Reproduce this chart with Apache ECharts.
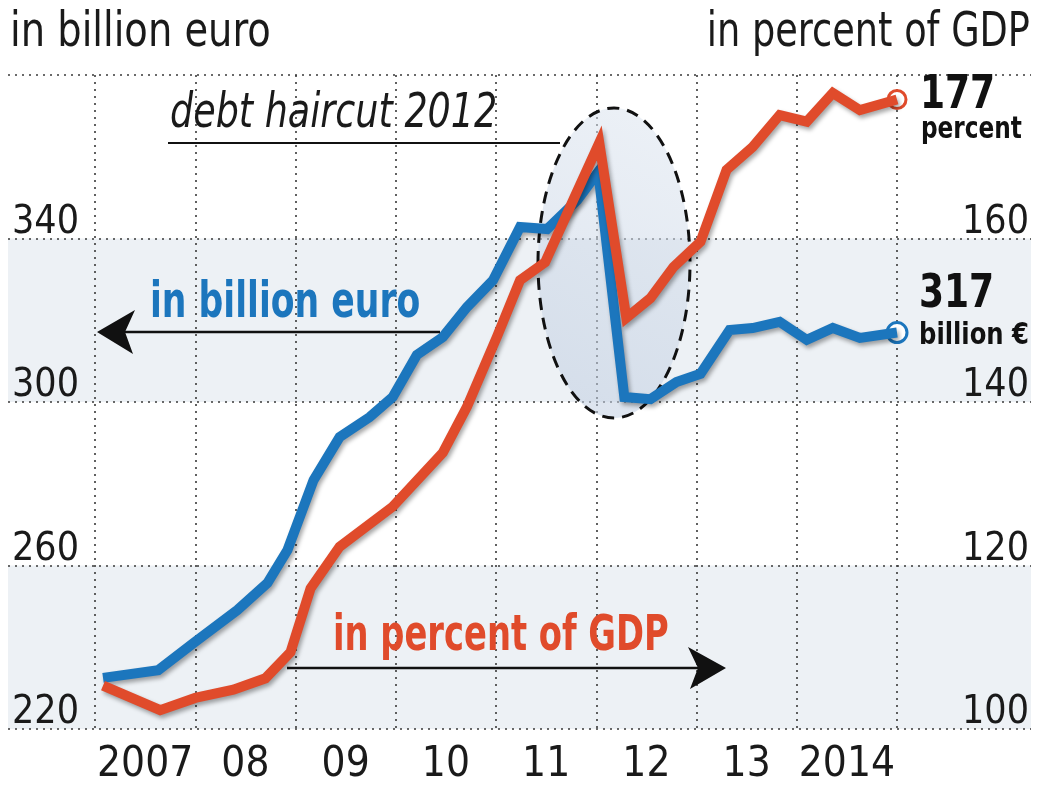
<!DOCTYPE html>
<html>
<head>
<meta charset="utf-8">
<script src="https://cdn.jsdelivr.net/npm/echarts@6/dist/echarts.min.js"></script>
<style>
  html, body { margin: 0; padding: 0; background: #fff; }
  #chart { width: 1037px; height: 787px; }
</style>
</head>
<body>
<div id="chart"></div>
<script>
// Greek government debt, quarterly readings 2007-2014
const yearLabels = ['2007', '08', '09', '10', '11', '12', '13', '2014'];

// debt in billion euro (left axis)
const euroDates = [2007.08, 2007.63, 2007.98, 2008.42, 2008.72, 2008.92, 2009.18, 2009.44, 2009.74, 2009.97,
                   2010.21, 2010.47, 2010.71, 2010.97, 2011.24, 2011.51, 2011.81, 2012.02, 2012.28, 2012.54,
                   2012.80, 2013.04, 2013.33, 2013.56, 2013.83, 2014.10, 2014.36, 2014.63, 2015.00];
const euroBillion = [232.5, 234.4, 241.0, 249.1, 255.7, 263.8, 280.9, 291.4, 296.3, 301.2,
                     311.5, 315.9, 323.2, 329.8, 342.8, 342.3, 349.4, 356.3, 301.2, 300.7,
                     304.9, 306.9, 317.6, 318.1, 319.6, 315.2, 318.1, 315.7, 317];

// debt in percent of GDP (right axis)
const gdpDates = [2007.08, 2007.65, 2008.00, 2008.38, 2008.70, 2008.95, 2009.15, 2009.44, 2009.97, 2010.47,
                  2010.71, 2011.01, 2011.24, 2011.49, 2011.77, 2012.03, 2012.30, 2012.54, 2012.77, 2013.04,
                  2013.30, 2013.56, 2013.83, 2014.10, 2014.36, 2014.63, 2015.00];
const gdpPercent = [105.3, 102.3, 103.8, 104.8, 106.2, 109.4, 117.2, 122.3, 127.2, 133.8,
                    139.4, 148.0, 154.9, 157.1, 164.7, 171.7, 150.3, 152.7, 156.5, 159.6,
                    168.4, 171.2, 175.1, 174.3, 177.8, 175.7, 177];

const FONT = '"DejaVu Sans Condensed", "Liberation Sans Narrow", sans-serif';
const BLUE = '#1c76bd';
const RED = '#e04b2b';
const INK = '#1a1a1a';
const GRIDLINE = { type: [2, 5], color: '#3a3a3a', width: 1.6 };

const pairs = (xs, ys) => xs.map((x, i) => [x, ys[i]]);
const lastOf = a => a[a.length - 1];

const lineShadow = {
  shadowColor: 'rgba(0,0,0,0.35)', shadowBlur: 4, shadowOffsetX: 2, shadowOffsetY: 3
};

// narrowed text: drawn from its anchor point and squeezed horizontally
function squeezed(x, y, text, font, fill, sx, align) {
  return {
    type: 'text', z: 10, silent: true, x: x, y: y, scaleX: sx,
    style: { x: 0, y: 0, text: text, font: font, fill: fill,
             align: align || 'left', verticalAlign: 'middle' }
  };
}

const chart = echarts.init(document.getElementById('chart'), null, { renderer: 'canvas' });

const option = {
  animation: false,
  backgroundColor: '#fff',
  grid: [
    { left: 8, right: 6, top: 75, bottom: 58 },
    { left: 95, right: 140, top: 75, bottom: 58 }
  ],
  xAxis: [
    { gridIndex: 0, type: 'value', min: 0, max: 1, show: false },
    { gridIndex: 1, type: 'value', min: 2007, max: 2015, interval: 1,
      axisLine: { show: false }, axisTick: { show: false }, axisLabel: { show: false },
      splitLine: { show: true, lineStyle: GRIDLINE } },
    { gridIndex: 1, type: 'category', data: yearLabels, boundaryGap: true, position: 'bottom',
      axisLine: { show: false }, axisTick: { show: false }, splitLine: { show: false },
      axisLabel: { interval: 0, fontFamily: FONT, fontSize: 42, color: INK, margin: 15 } }
  ],
  yAxis: [
    { gridIndex: 0, type: 'value', min: 220, max: 380, interval: 40, position: 'left',
      axisLine: { show: false }, axisTick: { show: false },
      axisLabel: { inside: true, showMaxLabel: false, verticalAlign: 'bottom', margin: 4,
                   fontFamily: FONT, fontSize: 39, lineHeight: 32, color: INK },
      splitLine: { show: true, lineStyle: GRIDLINE },
      splitArea: { show: true, areaStyle: { color: ['#edf1f5', 'rgba(255,255,255,0)'] } } },
    { gridIndex: 0, type: 'value', min: 100, max: 180, interval: 20, position: 'right',
      axisLine: { show: false }, axisTick: { show: false },
      axisLabel: { inside: true, showMaxLabel: false, verticalAlign: 'bottom', margin: 2,
                   fontFamily: FONT, fontSize: 39, lineHeight: 32, color: INK },
      splitLine: { show: false } },
    { gridIndex: 1, type: 'value', min: 220, max: 380, show: false },
    { gridIndex: 1, type: 'value', min: 100, max: 180, show: false }
  ],
  series: [
    {
      name: 'in billion euro', type: 'line', xAxisIndex: 1, yAxisIndex: 2,
      data: pairs(euroDates, euroBillion), symbol: 'none', clip: false, z: 5,
      lineStyle: Object.assign({ color: BLUE, width: 10, join: 'miter' }, lineShadow),
      markPoint: {
        silent: true, symbol: 'circle', symbolSize: 20,
        data: [{ coord: [lastOf(euroDates), lastOf(euroBillion)] }],
        itemStyle: { color: '#fff', borderColor: BLUE, borderWidth: 3 },
        label: { show: false }
      }
    },
    {
      name: 'in percent of GDP', type: 'line', xAxisIndex: 1, yAxisIndex: 3,
      data: pairs(gdpDates, gdpPercent), symbol: 'none', clip: false, z: 6,
      lineStyle: Object.assign({ color: RED, width: 10, join: 'miter' }, lineShadow),
      markPoint: {
        silent: true, symbol: 'circle', symbolSize: 18,
        data: [{ coord: [lastOf(gdpDates), lastOf(gdpPercent)] }],
        itemStyle: { color: '#fff', borderColor: RED, borderWidth: 3 },
        label: { show: false }
      }
    }
  ]
};

chart.setOption(option);

// value callouts at the last point of each series
const euroEnd = chart.convertToPixel({ xAxisIndex: 1, yAxisIndex: 2 }, [lastOf(euroDates), lastOf(euroBillion)]);
const gdpEnd = chart.convertToPixel({ xAxisIndex: 1, yAxisIndex: 3 }, [lastOf(gdpDates), lastOf(gdpPercent)]);
const bigBold = 'bold 46px ' + FONT;
const smallBold = 'bold 30px ' + FONT;

chart.setOption({
  graphic: [
    // axis unit headings
    squeezed(10, 34, 'in billion euro', '48px ' + FONT, INK, 0.89),
    squeezed(1030, 34, 'in percent of GDP', '48px ' + FONT, INK, 0.85, 'right'),

    // haircut highlight
    { type: 'ellipse', z: 1, silent: true,
      shape: { cx: 614, cy: 263, rx: 76, ry: 155 },
      style: {
        fill: { type: 'linear', x: 1, y: 0, x2: 0, y2: 1,
                colorStops: [{ offset: 0, color: 'rgba(222,230,240,0.55)' },
                             { offset: 1, color: 'rgba(190,204,224,0.55)' }] },
        stroke: '#111', lineWidth: 3, lineDash: [12, 8]
      } },
    squeezed(170, 115, 'debt haircut 2012', 'italic 48px ' + FONT, INK, 0.845),
    { type: 'line', z: 10, silent: true,
      shape: { x1: 168, y1: 143, x2: 560, y2: 143 }, style: { stroke: '#111', lineWidth: 2.2 } },

    // left-pointing arrow for the euro series
    squeezed(150, 304, 'in billion euro', 'bold 50px ' + FONT, BLUE, 0.77),
    { type: 'line', z: 10, silent: true,
      shape: { x1: 125, y1: 332, x2: 440, y2: 332 }, style: { stroke: '#111', lineWidth: 2.5 } },
    { type: 'polygon', z: 10, silent: true,
      shape: { points: [[97, 332], [135, 310], [125, 332], [133, 354]] }, style: { fill: '#111' } },

    // right-pointing arrow for the GDP series
    squeezed(333, 637, 'in percent of GDP', 'bold 50px ' + FONT, RED, 0.75),
    { type: 'line', z: 10, silent: true,
      shape: { x1: 287, y1: 668, x2: 700, y2: 668 }, style: { stroke: '#111', lineWidth: 2.5 } },
    { type: 'polygon', z: 10, silent: true,
      shape: { points: [[726, 668], [688, 647], [698, 668], [690, 689]] }, style: { fill: '#111' } },

    // end values
    squeezed(gdpEnd[0] + 23, gdpEnd[1] - 3, String(Math.round(lastOf(gdpPercent))), bigBold, '#111', 0.87),
    squeezed(gdpEnd[0] + 24, gdpEnd[1] + 31, 'percent', smallBold, '#111', 0.86),
    squeezed(euroEnd[0] + 22, euroEnd[1] - 37, String(Math.round(lastOf(euroBillion))), bigBold, '#111', 0.87),
    squeezed(euroEnd[0] + 22, euroEnd[1] + 4, 'billion €', smallBold, '#111', 0.9)
  ]
});
</script>
</body>
</html>
